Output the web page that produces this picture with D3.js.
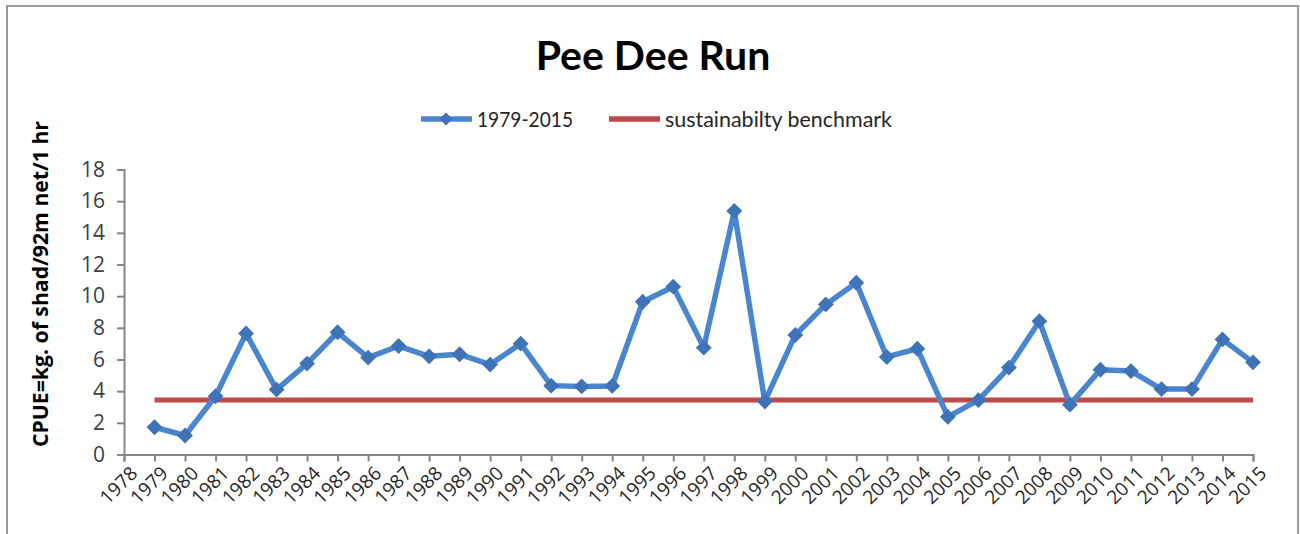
<!DOCTYPE html>
<html>
<head>
<meta charset="utf-8">
<script src="https://cdn.jsdelivr.net/npm/d3@7"></script>
<style>
  html, body { margin: 0; padding: 0; background: #fff; }
  svg { display: block; }
  text { font-family: Lato, 'Open Sans', sans-serif; }
</style>
</head>
<body>
<div id="chart"></div>
<script>
const years = d3.range(1979, 2016)
const cpue = [
  1.72, 1.2, 3.68, 7.65, 4.1, 5.74, 7.72, 6.12, 6.85, 6.2,
  6.33, 5.68, 7.0, 4.35, 4.3, 4.33, 9.65, 10.6, 6.75, 15.38,
  3.35, 7.55, 9.48, 10.85, 6.16, 6.68, 2.38, 3.43, 5.49, 8.42,
  3.15, 5.35, 5.27, 4.13, 4.13, 7.27, 5.82
]
const benchmark = 3.45
const yTicks = [0, 2, 4, 6, 8, 10, 12, 14, 16, 18]
const xTicks = d3.range(1978, 2016)

const width = 1300
const height = 534
const margin = { left: 124, right: 47, top: 169.5, bottom: 79.5 }

const svg = d3.select('#chart')
  .append('svg')
  .attr('width', width)
  .attr('height', height)

// outer frame
svg.append('rect')
  .attr('x', 7)
  .attr('y', 6)
  .attr('width', 1291)
  .attr('height', 540)
  .attr('fill', '#fff')
  .attr('stroke', '#9a9a9a')
  .attr('stroke-width', 2)

const x = d3.scaleLinear()
  .domain([1978, 2015])
  .range([margin.left, width - margin.right])

const y = d3.scaleLinear()
  .domain([0, 18])
  .range([height - margin.bottom, margin.top])

// title
svg.append('text')
  .attr('x', 653)
  .attr('y', 70)
  .attr('text-anchor', 'middle')
  .attr('font-size', '41px')
  .attr('font-weight', 700)
  .attr('fill', '#000')
  .text('Pee Dee Run')

// y axis
const yAxis = svg.append('g')
  .attr('transform', `translate(${x(1978)}, 0)`)
  .call(d3.axisLeft(y).tickValues(yTicks).tickSize(7).tickPadding(12))
yAxis.select('.domain').attr('stroke', '#868686').attr('stroke-width', 2)
yAxis.selectAll('.tick line').attr('stroke', '#868686').attr('stroke-width', 2)
yAxis.selectAll('.tick text')
  .attr('font-size', '21px')
  .attr('fill', '#404040')
  .style('font-family', 'Open Sans, sans-serif')

// x axis
const xAxis = svg.append('g')
  .attr('transform', `translate(0, ${y(0)})`)
  .call(d3.axisBottom(x).tickValues(xTicks).tickFormat(d3.format('d')).tickSize(7))
xAxis.select('.domain').attr('stroke', '#868686').attr('stroke-width', 2)
xAxis.selectAll('.tick line').attr('stroke', '#868686').attr('stroke-width', 2)
xAxis.selectAll('.tick text')
  .attr('font-size', '19px')
  .attr('fill', '#262626')
  .attr('text-anchor', 'end')
  .attr('dy', null)
  .attr('transform', 'translate(7, 13) rotate(-45)')
  .style('font-family', 'Open Sans, sans-serif')

// y label
svg.append('text')
  .attr('transform', `translate(48, ${284}) rotate(-90)`)
  .attr('text-anchor', 'middle')
  .attr('font-size', '21px')
  .attr('font-weight', 700)
  .attr('fill', '#000')
  .attr('textLength', 326)
  .attr('lengthAdjust', 'spacingAndGlyphs')
  .style('font-family', 'Open Sans, sans-serif')
  .text('CPUE=kg. of shad/92m net/1 hr')

// benchmark line
svg.append('line')
  .attr('x1', x(1979))
  .attr('x2', x(2015))
  .attr('y1', y(benchmark))
  .attr('y2', y(benchmark))
  .attr('stroke', '#be4b48')
  .attr('stroke-width', 5)

// series line
const points = years.map((yr, i) => ({ year: yr, value: cpue[i] }))
svg.append('path')
  .datum(points)
  .attr('fill', 'none')
  .attr('stroke', '#4a86d0')
  .attr('stroke-width', 5.5)
  .attr('stroke-linejoin', 'round')
  .attr('d', d3.line().x(d => x(d.year)).y(d => y(d.value)))

svg.append('g')
  .selectAll('path.marker')
  .data(points)
  .enter()
  .append('path')
  .attr('class', 'marker')
  .attr('d', d3.symbol().type(d3.symbolDiamond2).size(160))
  .attr('transform', d => `translate(${x(d.year)}, ${y(d.value)})`)
  .attr('fill', '#3f73b8')

// legend
const legend = svg.append('g').attr('transform', 'translate(0, 119)')
legend.append('line')
  .attr('x1', 421).attr('x2', 472)
  .attr('stroke', '#4a86d0').attr('stroke-width', 5.5)
legend.append('path')
  .attr('d', d3.symbol().type(d3.symbolDiamond2).size(110))
  .attr('transform', 'translate(446, 0)')
  .attr('fill', '#3f73b8')
legend.append('text')
  .attr('x', 477).attr('y', 8)
  .attr('font-size', '21px')
  .attr('fill', '#262626')
  .attr('textLength', 96)
  .attr('lengthAdjust', 'spacingAndGlyphs')
  .text('1979-2015')
legend.append('line')
  .attr('x1', 609).attr('x2', 660)
  .attr('stroke', '#be4b48').attr('stroke-width', 5.5)
legend.append('text')
  .attr('x', 665).attr('y', 8)
  .attr('font-size', '21px')
  .attr('fill', '#262626')
  .attr('textLength', 227)
  .attr('lengthAdjust', 'spacingAndGlyphs')
  .text('sustainabilty benchmark')
</script>
</body>
</html>
